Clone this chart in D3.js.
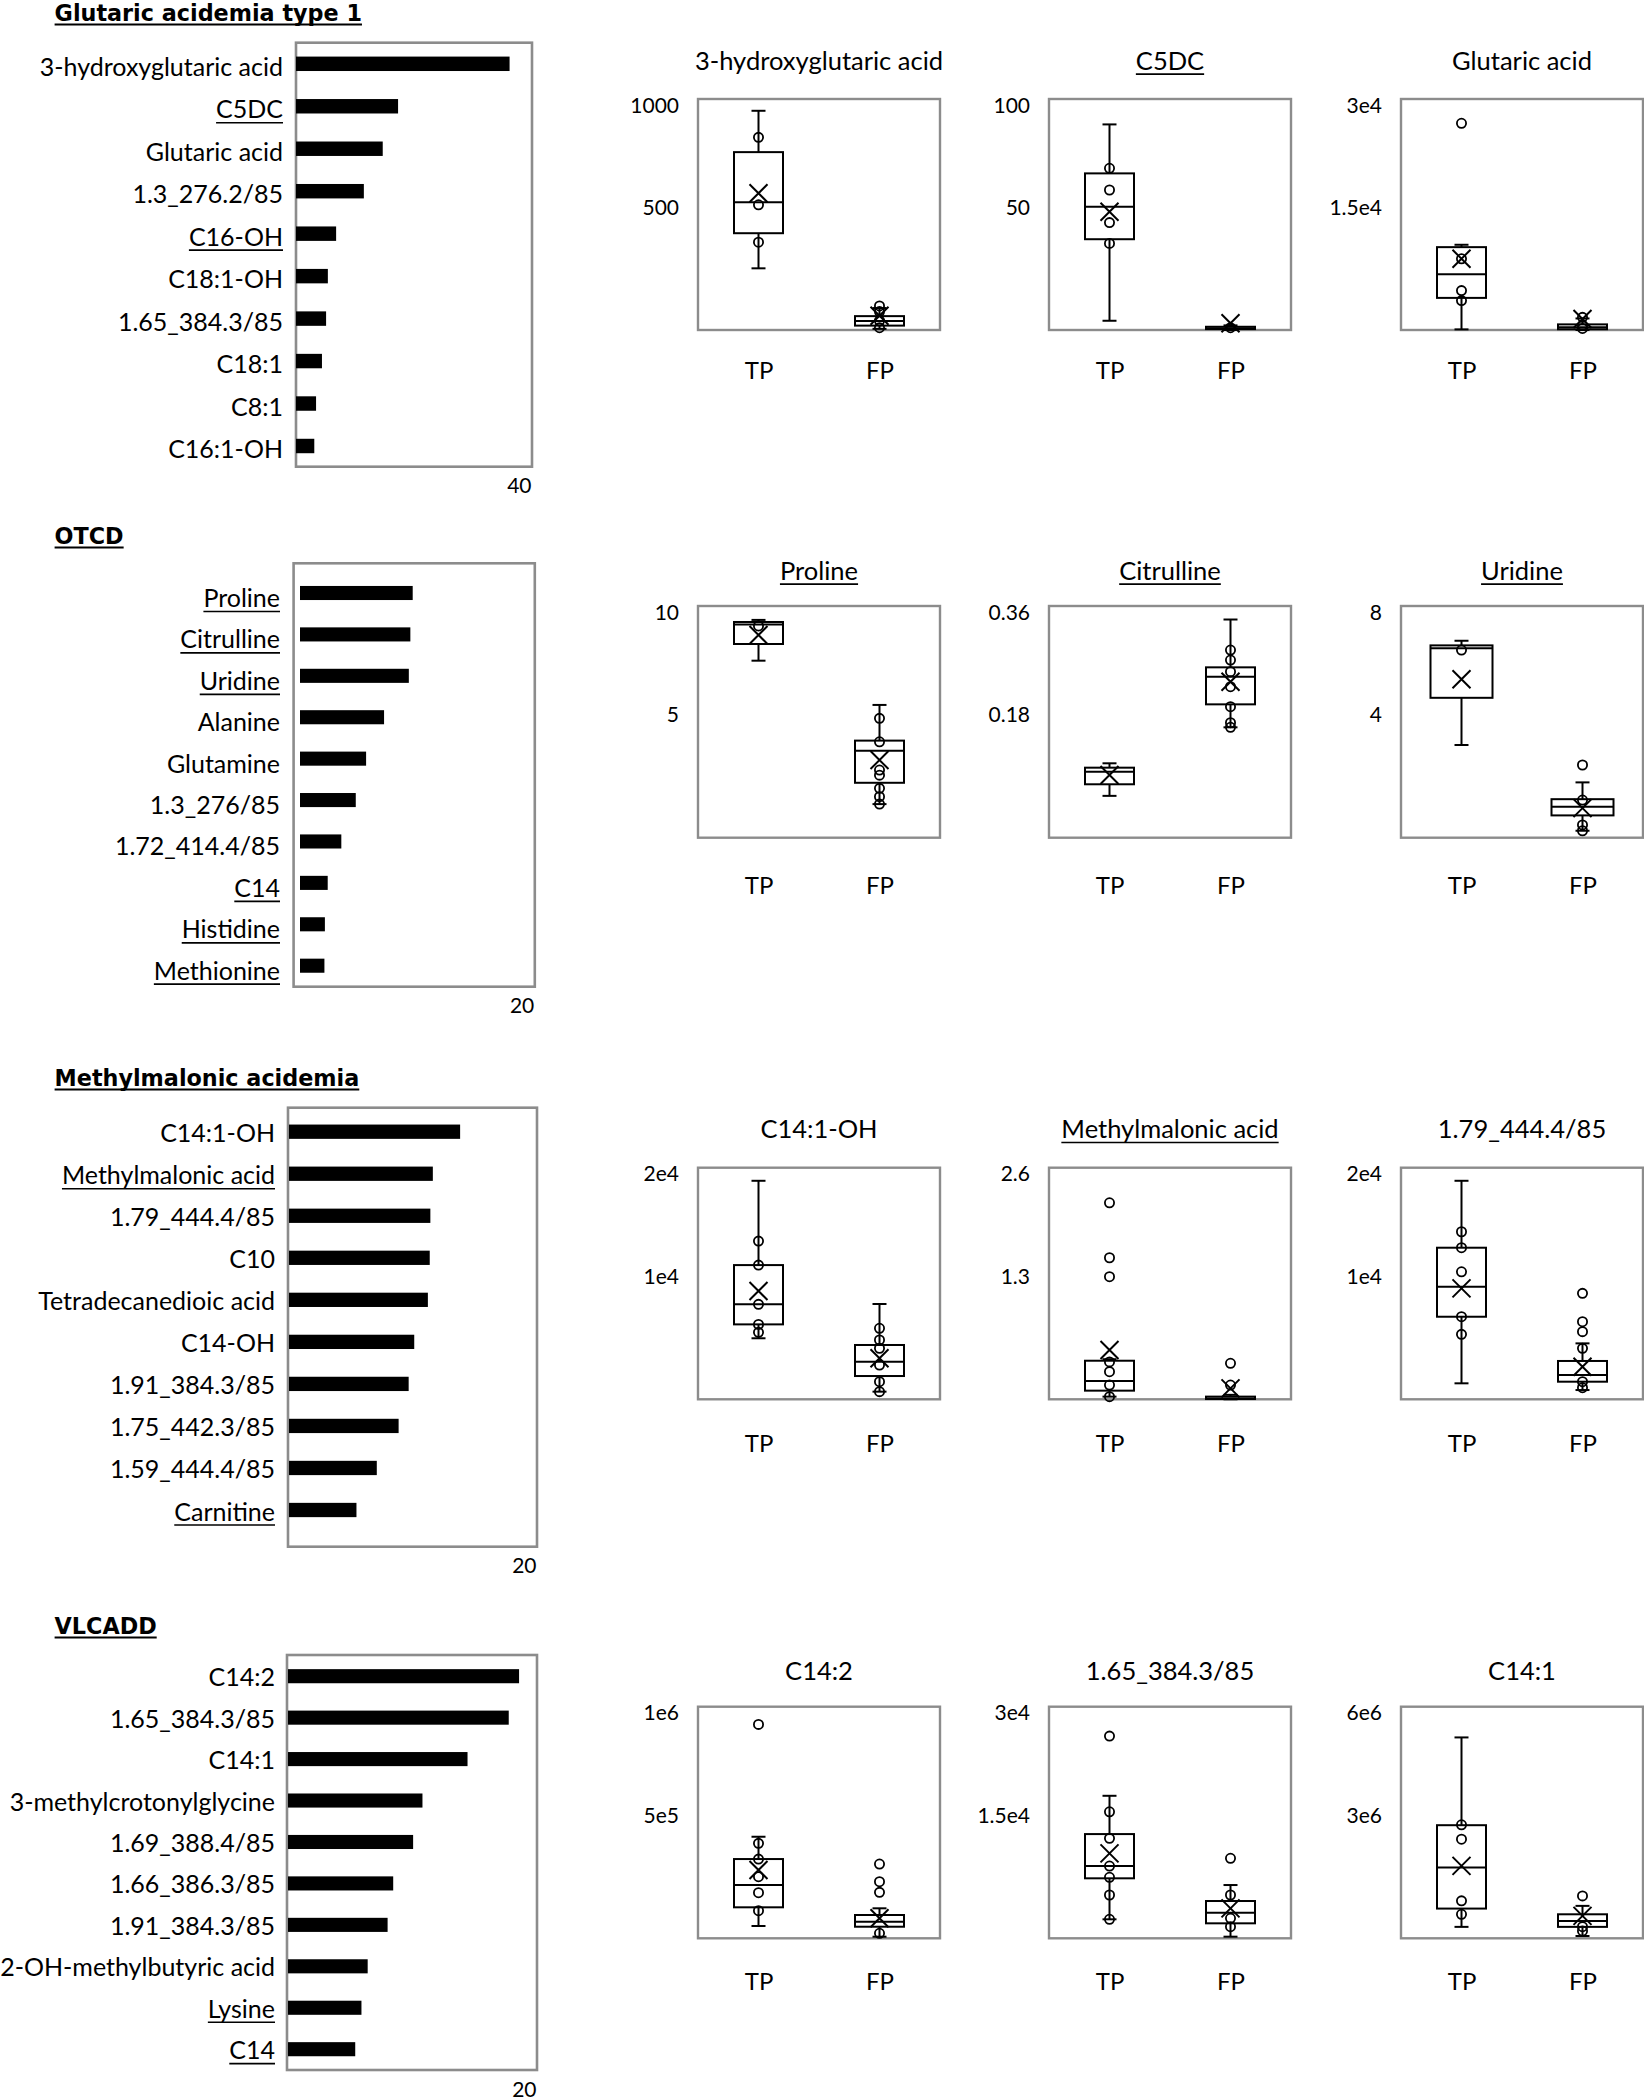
<!DOCTYPE html>
<html>
<head>
<meta charset="utf-8">
<script src="https://cdn.jsdelivr.net/npm/d3@7"></script>
<style>
  body { margin: 0; background: #fff; }
  svg { display: block; }
</style>
</head>
<body>
<svg id="chart" width="1644" height="2100"></svg>
<script>
// ---------------- DATA ----------------
const groups = ["TP", "FP"];

// Section 1: Glutaric acidemia type 1
const gaTitle = "Glutaric acidemia type 1";
const gaFeatures = ["3-hydroxyglutaric acid", "C5DC", "Glutaric acid", "1.3_276.2/85", "C16-OH", "C18:1-OH", "1.65_384.3/85", "C18:1", "C8:1", "C16:1-OH"];
const gaScores = [36.2, 17.3, 14.7, 11.5, 6.8, 5.4, 5.1, 4.4, 3.4, 3.1];
const gaUnderlined = ["C5DC", "C16-OH"];
const gaScoreMax = 40;

const hgaName = "3-hydroxyglutaric acid";
const hgaTicks = [500, 1000];
const hgaStats = [[267, 419, 553, 770, 949], [5, 19, 39, 60, 95]];
const hgaMeans = [592, 62];
const hgaPoints = [[834, 542, 380], [104, 80, 40, 10]];

const c5dcName = "C5DC";
const c5dcTicks = [50, 100];
const c5dcStats = [[4, 39.3, 53.4, 67.8, 89], [0, 0.4, 0.8, 1.4, 2]];
const c5dcMeans = [51.2, 2.9];
const c5dcPoints = [[70, 60.6, 46.5, 37.5], [1.0]];

const glutName = "Glutaric acid";
const glutTicks = [15000, 30000];
const glutStats = [[80, 4170, 7240, 10760, 11070], [0, 100, 350, 730, 1500]];
const glutMeans = [9250, 1430];
const glutPoints = [[26843, 9250, 5120, 3820], [1640, 600, 200]];

// Section 2: OTCD
const otcdTitle = "OTCD";
const otcdFeatures = ["Proline", "Citrulline", "Uridine", "Alanine", "Glutamine", "1.3_276/85", "1.72_414.4/85", "C14", "Histidine", "Methionine"];
const otcdScores = [9.6, 9.4, 9.27, 7.16, 5.63, 4.75, 3.52, 2.36, 2.12, 2.08];
const otcdUnderlined = ["Proline", "Citrulline", "Uridine", "C14", "Histidine", "Methionine"];
const otcdScoreMax = 20;

const proName = "Proline";
const proTicks = [5, 10];
const proStats = [[7.64, 8.36, 9.2, 9.31, 9.4], [1.45, 2.37, 3.75, 4.19, 5.73]];
const proMeans = [8.75, 3.35];
const proPoints = [[9.14], [5.15, 4.14, 2.92, 2.7, 2.13, 1.77, 1.45]];

const citName = "Citrulline";
const citTicks = [0.18, 0.36];
const citStats = [[0.065, 0.083, 0.1026, 0.1088, 0.1156], [0.1715, 0.2072, 0.25, 0.2647, 0.339]];
const citMeans = [0.0974, 0.2424];
const citPoints = [[], [0.2916, 0.276, 0.258, 0.2346, 0.2035, 0.1787, 0.1715]];

const uriName = "Uridine";
const uriTicks = [4, 8];
const uriStats = [[3.2, 4.83, 6.54, 6.64, 6.8], [0.24, 0.77, 1.07, 1.33, 1.91]];
const uriMeans = [5.47, 1.02];
const uriPoints = [[6.48], [2.51, 1.3, 0.44, 0.24]];

// Section 3: Methylmalonic acidemia
const mmaTitle = "Methylmalonic acidemia";
const mmaFeatures = ["C14:1-OH", "Methylmalonic acid", "1.79_444.4/85", "C10", "Tetradecanedioic acid", "C14-OH", "1.91_384.3/85", "1.75_442.3/85", "1.59_444.4/85", "Carnitine"];
const mmaScores = [13.8, 11.6, 11.4, 11.35, 11.2, 10.1, 9.65, 8.84, 7.08, 5.44];
const mmaUnderlined = ["Methylmalonic acid", "Carnitine"];
const mmaScoreMax = 20;

const c141ohName = "C14:1-OH";
const c141ohTicks = [10000, 20000];
const c141ohStats = [[5270, 6470, 8200, 11590, 18870], [660, 2010, 3250, 4690, 8230]];
const c141ohMeans = [9350, 3540];
const c141ohPoints = [[13660, 11590, 8200, 6470, 5780], [6130, 5120, 4400, 2960, 1520, 660]];

const mmName = "Methylmalonic acid";
const mmTicks = [1.3, 2.6];
const mmStats = [[0.03, 0.097, 0.205, 0.433, 0.45], [0, 0.003, 0.01, 0.03, 0.05]];
const mmMeans = [0.553, 0.123];
const mmPoints = [[2.206, 1.589, 1.376, 0.42, 0.31, 0.16, 0.03], [0.404, 0.16]];

const f179Name = "1.79_444.4/85";
const f179Ticks = [10000, 20000];
const f179Stats = [[1380, 7130, 9720, 13090, 18870], [800, 1520, 2100, 3310, 4830]];
const f179Means = [9580, 2810];
const f179Points = [[14470, 13090, 11010, 7130, 5610], [9150, 6700, 5840, 4400, 1520, 1000]];

// Section 4: VLCADD
const vlTitle = "VLCADD";
const vlFeatures = ["C14:2", "1.65_384.3/85", "C14:1", "3-methylcrotonylglycine", "1.69_388.4/85", "1.66_386.3/85", "1.91_384.3/85", "2-OH-methylbutyric acid", "Lysine", "C14"];
const vlScores = [18.56, 17.73, 14.42, 10.8, 10.05, 8.45, 8.0, 6.4, 5.9, 5.4];
const vlUnderlined = ["Lysine", "C14"];
const vlScoreMax = 20;

const c142Name = "C14:2";
const c142Ticks = [500000, 1000000];
const c142Stats = [[53100, 133800, 230000, 342200, 438500], [6900, 50000, 71600, 100600, 129500]];
const c142Means = [294800, 86300];
const c142Points = [[923600, 410000, 342000, 266000, 196800, 119100], [320700, 244300, 198500, 21600]];

const f165Name = "1.65_384.3/85";
const f165Ticks = [15000, 30000];
const f165Stats = [[2460, 7770, 9360, 13500, 18460], [210, 1940, 3310, 4830, 6900]];
const f165Means = [11000, 3880];
const f165Points = [[26190, 16390, 12950, 9360, 7900, 5610, 2460], [10360, 5610, 2590, 1500]];

const c141Name = "C14:1";
const c141Ticks = [3000000, 6000000];
const c141Stats = [[296000, 770000, 1833000, 2930000, 5204000], [60000, 296000, 451000, 622000, 840000]];
const c141Means = [1877000, 580000];
const c141Points = [[2940000, 2567000, 970000, 622000], [1099000, 300000, 190000]];

// tables built from the arrays above
const sections = [
  { title: gaTitle, features: gaFeatures, scores: gaScores, underlined: gaUnderlined, max: gaScoreMax,
    boxes: [
      { name: hgaName, ticks: hgaTicks, stats: hgaStats, means: hgaMeans, points: hgaPoints },
      { name: c5dcName, ticks: c5dcTicks, stats: c5dcStats, means: c5dcMeans, points: c5dcPoints },
      { name: glutName, ticks: glutTicks, stats: glutStats, means: glutMeans, points: glutPoints } ] },
  { title: otcdTitle, features: otcdFeatures, scores: otcdScores, underlined: otcdUnderlined, max: otcdScoreMax,
    boxes: [
      { name: proName, ticks: proTicks, stats: proStats, means: proMeans, points: proPoints },
      { name: citName, ticks: citTicks, stats: citStats, means: citMeans, points: citPoints },
      { name: uriName, ticks: uriTicks, stats: uriStats, means: uriMeans, points: uriPoints } ] },
  { title: mmaTitle, features: mmaFeatures, scores: mmaScores, underlined: mmaUnderlined, max: mmaScoreMax,
    boxes: [
      { name: c141ohName, ticks: c141ohTicks, stats: c141ohStats, means: c141ohMeans, points: c141ohPoints },
      { name: mmName, ticks: mmTicks, stats: mmStats, means: mmMeans, points: mmPoints },
      { name: f179Name, ticks: f179Ticks, stats: f179Stats, means: f179Means, points: f179Points } ] },
  { title: vlTitle, features: vlFeatures, scores: vlScores, underlined: vlUnderlined, max: vlScoreMax,
    boxes: [
      { name: c142Name, ticks: c142Ticks, stats: c142Stats, means: c142Means, points: c142Points },
      { name: f165Name, ticks: f165Ticks, stats: f165Stats, means: f165Means, points: f165Points },
      { name: c141Name, ticks: c141Ticks, stats: c141Stats, means: c141Means, points: c141Points } ] }
];

// ---------------- LAYOUT / STYLE ----------------
const layouts = [
  { titleBase: 21,   frame: [296, 532, 42.7, 466.7],   barStart: 296, first: 63.8,   last: 446,    labelRight: 283, labelDy: 12, boxTop: 99,     boxBot: 330,    boxTitleY: 61.7,   groupY: 370 },
  { titleBase: 544,  frame: [293.6, 534.8, 563.3, 986.7], barStart: 300, first: 593,  last: 965.7,  labelRight: 280, labelDy: 14, boxTop: 606,    boxBot: 837.7,  boxTitleY: 571.7,  groupY: 885 },
  { titleBase: 1086, frame: [288, 537, 1107.7, 1546.7], barStart: 289, first: 1131.7, last: 1510,   labelRight: 275, labelDy: 10.5, boxTop: 1167.7, boxBot: 1399.3, boxTitleY: 1130,   groupY: 1443.3 },
  { titleBase: 1634, frame: [287, 537, 1655, 2070],     barStart: 288, first: 1676.2, last: 2049.2, labelRight: 275, labelDy: 10, boxTop: 1706.7, boxBot: 1938.3, boxTitleY: 1671.7, groupY: 1981.7 }
];
const boxCols = [698, 1049, 1401];
const panelW = 242;
const boxWidths = [[49, 49, 49], [49, 49, 62], [49, 49, 49], [49, 49, 49]];
const FONT = "Lato, 'Open Sans', sans-serif";
const TITLE_FONT = "'DejaVu Sans', 'Liberation Sans', sans-serif";
const FRAME = "#8c8c8c";
const LABEL_FS = 25, BOXTITLE_FS = 25.5, GROUP_FS = 24, TICK_FS = 21, TITLE_FS = 22.3;

const fmt = v => v >= 1e4 ? v.toExponential().replace("+", "") : String(v);

// ---------------- DRAW ----------------
const svg = d3.select("#chart").attr("font-family", FONT);

function ul(parent, x1, x2, y, w) {
  parent.append("line").attr("x1", x1).attr("x2", x2).attr("y1", y).attr("y2", y)
    .attr("stroke", "#000").attr("stroke-width", w);
}

sections.forEach((sec, si) => {
  const L = layouts[si];
  const g = svg.append("g");

  // section title
  const t = g.append("text").attr("x", 54.6).attr("y", L.titleBase)
    .attr("font-family", TITLE_FONT).attr("font-size", TITLE_FS).attr("font-weight", 700)
    .attr("fill", "#000").text(sec.title);
  ul(g, 54.6, 54.6 + t.node().getComputedTextLength(), L.titleBase + 3.5, 2.2);

  // --- importance bar chart ---
  const [fx0, fx1, fy0, fy1] = L.frame;
  const x = d3.scaleLinear().domain([0, sec.max]).range([L.barStart, fx1]);
  const step = (L.last - L.first) / (sec.features.length - 1);
  const y = d3.scaleBand().domain(sec.features)
    .range([L.first - step / 2, L.last + step / 2]).paddingInner(0.66).paddingOuter(0.33);

  g.append("rect").attr("x", fx0).attr("y", fy0).attr("width", fx1 - fx0).attr("height", fy1 - fy0)
    .attr("fill", "none").attr("stroke", FRAME).attr("stroke-width", 2.6);

  g.selectAll("rect.bar").data(sec.features).join("rect").attr("class", "bar")
    .attr("x", x(0)).attr("y", d => y(d))
    .attr("width", (d, i) => x(sec.scores[i]) - x(0))
    .attr("height", y.bandwidth()).attr("fill", "#000");

  const ax = g.append("g").attr("transform", `translate(${L.labelRight},0)`)
    .call(d3.axisLeft(y).tickSize(0).tickPadding(0));
  ax.select(".domain").remove();
  ax.attr("font-family", FONT);
  ax.selectAll("text").attr("font-size", LABEL_FS).attr("fill", "#000").attr("x", 0).attr("dy", L.labelDy);
  ax.selectAll(".tick").each(function (d) {
    if (sec.underlined.includes(d)) {
      const len = d3.select(this).select("text").node().getComputedTextLength();
      ul(d3.select(this), -len, 0, L.labelDy + 4.5, 1.7);
    }
  });

  const sx = g.append("g").attr("transform", `translate(0,${fy1 + 20})`)
    .call(d3.axisBottom(x).tickValues([sec.max]).tickSize(0).tickPadding(0));
  sx.select(".domain").remove();
  sx.attr("font-family", FONT);
  sx.selectAll("text").attr("font-size", TICK_FS).attr("fill", "#000")
    .attr("text-anchor", "end").attr("dx", -1).attr("dy", 6.5);

  // --- box plots ---
  sec.boxes.forEach((bx, bi) => {
    const x0 = boxCols[bi], x1 = x0 + panelW, y0 = L.boxTop, y1 = L.boxBot;
    const max = bx.ticks[bx.ticks.length - 1];
    const yv = d3.scaleLinear().domain([0, max]).range([y1, y0]);
    const xg = d3.scalePoint().domain(groups).range([x0, x1]).padding(0.5);
    const pg = g.append("g");

    pg.append("rect").attr("x", x0).attr("y", y0).attr("width", x1 - x0).attr("height", y1 - y0)
      .attr("fill", "none").attr("stroke", FRAME).attr("stroke-width", 2.4);

    const tt = pg.append("text").attr("x", (x0 + x1) / 2).attr("y", L.boxTitleY + 8)
      .attr("text-anchor", "middle").attr("font-size", BOXTITLE_FS).attr("fill", "#000").text(bx.name);
    if (sec.underlined.includes(bx.name)) {
      const len = tt.node().getComputedTextLength();
      ul(pg, (x0 + x1) / 2 - len / 2, (x0 + x1) / 2 + len / 2, L.boxTitleY + 12.5, 1.7);
    }

    const ya = pg.append("g").attr("transform", `translate(${x0},0)`)
      .call(d3.axisLeft(yv).tickValues(bx.ticks).tickFormat(fmt).tickSize(0).tickPadding(19));
    ya.select(".domain").remove();
    ya.attr("font-family", FONT);
    ya.selectAll("text").attr("font-size", TICK_FS).attr("fill", "#000")
      .attr("dy", d => d === max ? 13 : 0);

    const xa = pg.append("g").attr("transform", `translate(0,${L.groupY})`)
      .call(d3.axisBottom(xg).tickSize(0).tickPadding(0));
    xa.select(".domain").remove();
    xa.attr("font-family", FONT);
    xa.selectAll("text").attr("font-size", GROUP_FS).attr("fill", "#000").attr("dy", 8.5);

    groups.forEach((gr, k) => {
      const c = xg(gr), s = bx.stats[k], bw = boxWidths[si][bi];
      const bg = pg.append("g").attr("stroke", "#000").attr("stroke-width", 2).attr("fill", "none");
      const segs = [
        [c, yv(s[0]), c, yv(s[1])],
        [c, yv(s[3]), c, yv(s[4])],
        [c - 7, yv(s[0]), c + 7, yv(s[0])],
        [c - 7, yv(s[4]), c + 7, yv(s[4])],
        [c - bw / 2, yv(s[2]), c + bw / 2, yv(s[2])]
      ];
      bg.selectAll("line.seg").data(segs).join("line").attr("class", "seg")
        .attr("x1", d => d[0]).attr("y1", d => d[1]).attr("x2", d => d[2]).attr("y2", d => d[3]);
      bg.append("rect").attr("x", c - bw / 2).attr("y", yv(s[3]))
        .attr("width", bw).attr("height", Math.max(0.5, yv(s[1]) - yv(s[3])));
      bg.selectAll("circle").data(bx.points[k]).join("circle")
        .attr("cx", c).attr("cy", d => yv(d)).attr("r", 4.6).attr("stroke-width", 1.8);
      const my = yv(bx.means[k]), m = 9;
      bg.append("path").attr("d", `M${c - m},${my - m}L${c + m},${my + m}M${c - m},${my + m}L${c + m},${my - m}`)
        .attr("stroke-width", 2);
    });
  });
});
</script>
</body>
</html>
